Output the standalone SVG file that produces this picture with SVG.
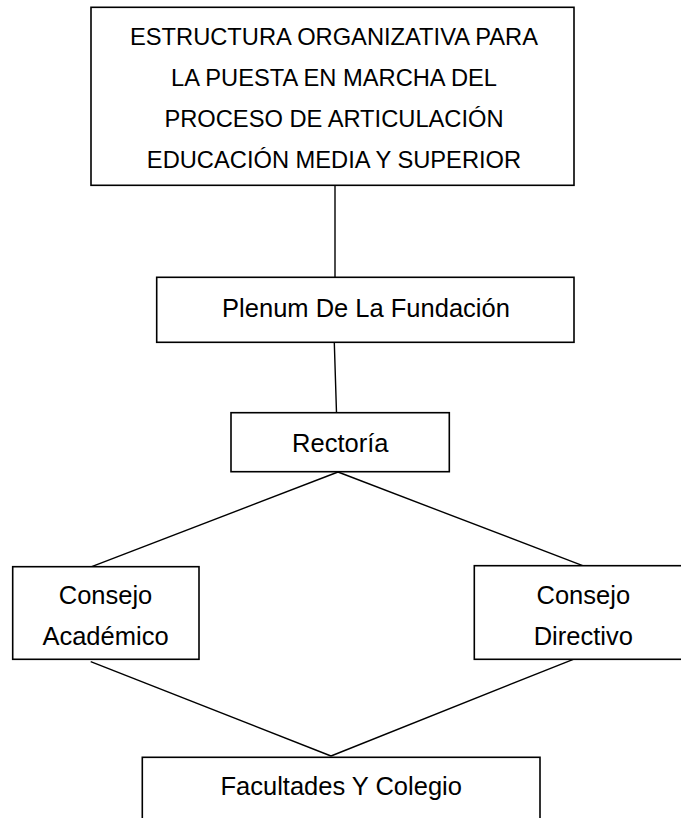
<svg xmlns="http://www.w3.org/2000/svg" width="681" height="818" viewBox="0 0 681 818">
<style>
.box{fill:#fff;stroke:#000;stroke-width:1.6}
.t{font-family:"Liberation Sans",Arial,sans-serif;font-size:25.5px;fill:#000;text-anchor:middle}
.tt{font-family:"Liberation Sans",Arial,sans-serif;font-size:23.7px;fill:#000;text-anchor:middle}
.ln{stroke:#000;stroke-width:1.4;fill:none}
</style>
<rect width="681" height="818" fill="#fff"/>
<g id="connectors">
<line class="ln" x1="335" y1="185" x2="335" y2="277"/>
<line class="ln" x1="334.3" y1="342.3" x2="336.5" y2="412.7"/>
<line class="ln" x1="338" y1="472" x2="91.7" y2="566.7"/>
<line class="ln" x1="338" y1="472" x2="582.7" y2="565.7"/>
<line class="ln" x1="90.7" y1="661.7" x2="331" y2="756"/>
<line class="ln" x1="573.3" y1="659.3" x2="331" y2="756"/>
</g>
<g id="titulo">
<rect class="box" x="91" y="7.3" width="483" height="178"/>
<text class="tt" x="334" y="45">ESTRUCTURA ORGANIZATIVA PARA</text>
<text class="tt" x="334" y="86">LA PUESTA EN MARCHA DEL</text>
<text class="tt" x="334" y="127">PROCESO DE ARTICULACIÓN</text>
<text class="tt" x="334" y="168">EDUCACIÓN MEDIA Y SUPERIOR</text>
</g>
<g id="plenum">
<rect class="box" x="156.7" y="277.3" width="417.3" height="65"/>
<text class="t" x="366" y="316.7">Plenum De La Fundación</text>
</g>
<g id="rectoria">
<rect class="box" x="231" y="412.7" width="218.3" height="59"/>
<text class="t" x="340.3" y="451.7">Rectoría</text>
</g>
<g id="consejo-academico">
<rect class="box" x="12.7" y="566.7" width="186.3" height="92.6"/>
<text class="t" x="105.5" y="604">Consejo</text>
<text class="t" x="105.5" y="645">Académico</text>
</g>
<g id="consejo-directivo">
<rect class="box" x="474.3" y="565.7" width="220" height="93.6"/>
<text class="t" x="583.3" y="604">Consejo</text>
<text class="t" x="583.3" y="645">Directivo</text>
</g>
<g id="facultades">
<rect class="box" x="142.3" y="757.3" width="397.7" height="80"/>
<text class="t" x="341.2" y="795">Facultades Y Colegio</text>
</g>
</svg>
